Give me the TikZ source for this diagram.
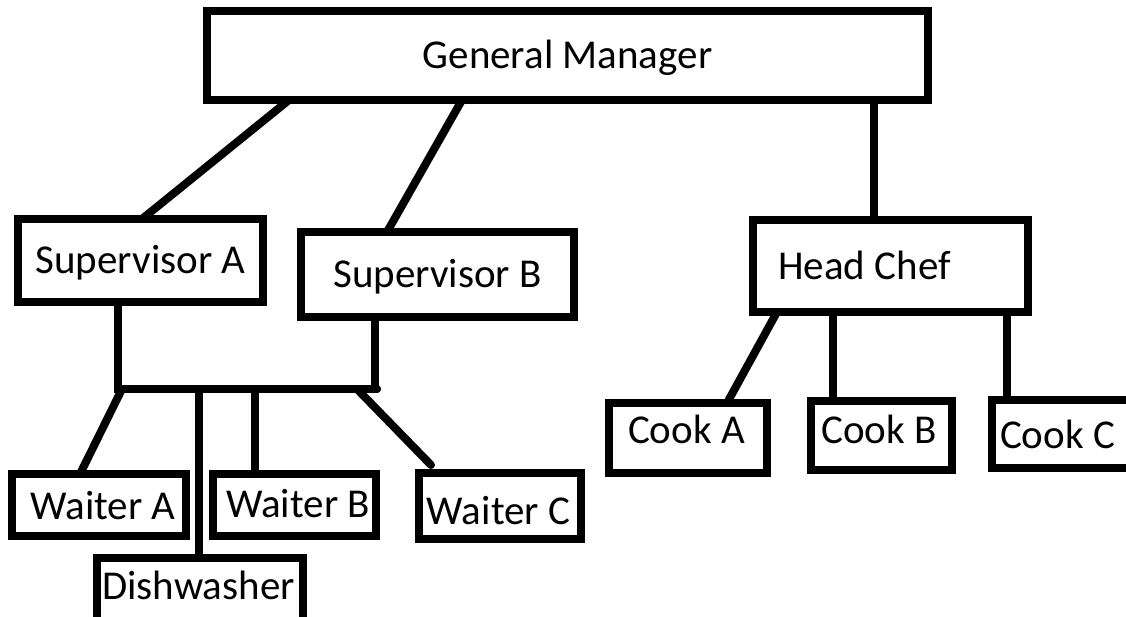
\documentclass[tikz,border=0pt]{standalone}
\usepackage{fontspec}
\setmainfont{Carlito}
\usetikzlibrary{calc}
\newcommand\boxtext[3]{\makebox[0pt][c]{\hspace*{#1}\raisebox{#2}[0pt][0pt]{#3}}}
\begin{document}
\begin{tikzpicture}[x=1pt,y=-1pt,
  orgbox/.style={draw=black, line width=8pt, inner sep=0pt, outer sep=0pt,
    font=\fontsize{41}{49}\selectfont, text height=26.4pt, text depth=0pt},
  link/.style={draw=black, line width=8pt, line cap=round}]
\useasboundingbox (0,0) rectangle (1126,616);
\clip (0,0) rectangle (1126,616);
% boxes
\node[orgbox, minimum width=721pt, minimum height=89pt] (gm) at (567.5,55.5) {\boxtext{0pt}{0pt}{General Manager}};
\node[orgbox, minimum width=245pt, minimum height=83pt] (supA) at (140.5,260.5) {\boxtext{0pt}{0pt}{Supervisor A}};
\node[orgbox, minimum width=273pt, minimum height=85pt] (supB) at (437.5,274.5) {\boxtext{0pt}{0pt}{Supervisor B}};
\node[orgbox, minimum width=275pt, minimum height=92pt] (chef) at (890.5,266) {\boxtext{-52pt}{0pt}{Head Chef}};
\node[orgbox, minimum width=174pt, minimum height=62pt] (waiterA) at (99,505) {\boxtext{8pt}{-1pt}{Waiter A}};
\node[orgbox, minimum width=163pt, minimum height=62pt] (waiterB) at (294.5,505) {\boxtext{7pt}{1pt}{Waiter B}};
\node[orgbox, minimum width=162pt, minimum height=66pt] (waiterC) at (500,506) {\boxtext{-3pt}{-5.5pt}{Waiter C}};
\node[orgbox, minimum width=206pt, minimum height=64pt] (dish) at (200,590) {\boxtext{-3pt}{4pt}{Dishwasher}};
\node[orgbox, minimum width=158pt, minimum height=70pt] (cookA) at (688,438) {\boxtext{-3pt}{7.5pt}{Cook A}};
\node[orgbox, minimum width=141pt, minimum height=69pt] (cookB) at (881.5,435.5) {\boxtext{-5pt}{5.5pt}{Cook B}};
\node[orgbox, minimum width=138pt, minimum height=68pt] (cookC) at (1061,434) {\boxtext{-7pt}{-1.5pt}{Cook C}};
% connectors
\draw[link] ($(gm.south west)+(82,0)$) -- ($(supA.north west)+(124,0)$);
\draw[link] ($(gm.south west)+(255,0)$) -- ($(supB.north west)+(86,0)$);
\draw[link] ($(gm.south west)+(667,0)$) -- ($(chef.north west)+(121,0)$);
\coordinate (barL) at (118,389);
\coordinate (barR) at (377,389);
\draw[link, line join=miter] ($(supA.south west)+(100,0)$) |- (barR);
\draw[link, line join=miter] ($(supB.south west)+(74,0)$) |- (barR);
\draw[link] ($(barL)+(4,0)$) -- ($(waiterA.north west)+(68,0)$);
\draw[link] ($(barL)+(81,0)$) -- ($(dish.north west)+(102,0)$);
\draw[link] ($(barL)+(137,0)$) -- ($(waiterB.north west)+(42,0)$);
\draw[link] ($(barL)+(239,0)$) -- ($(waiterC.north west)+(12,-8)$);
\draw[link] ($(chef.south west)+(24,0)$) -- ($(cookA.north west)+(118,0)$);
\draw[link] ($(chef.south west)+(80,0)$) -- ($(cookB.north west)+(22,0)$);
\draw[link] ($(chef.south west)+(254,0)$) -- ($(cookC.north west)+(15,0)$);
\end{tikzpicture}
\end{document}
